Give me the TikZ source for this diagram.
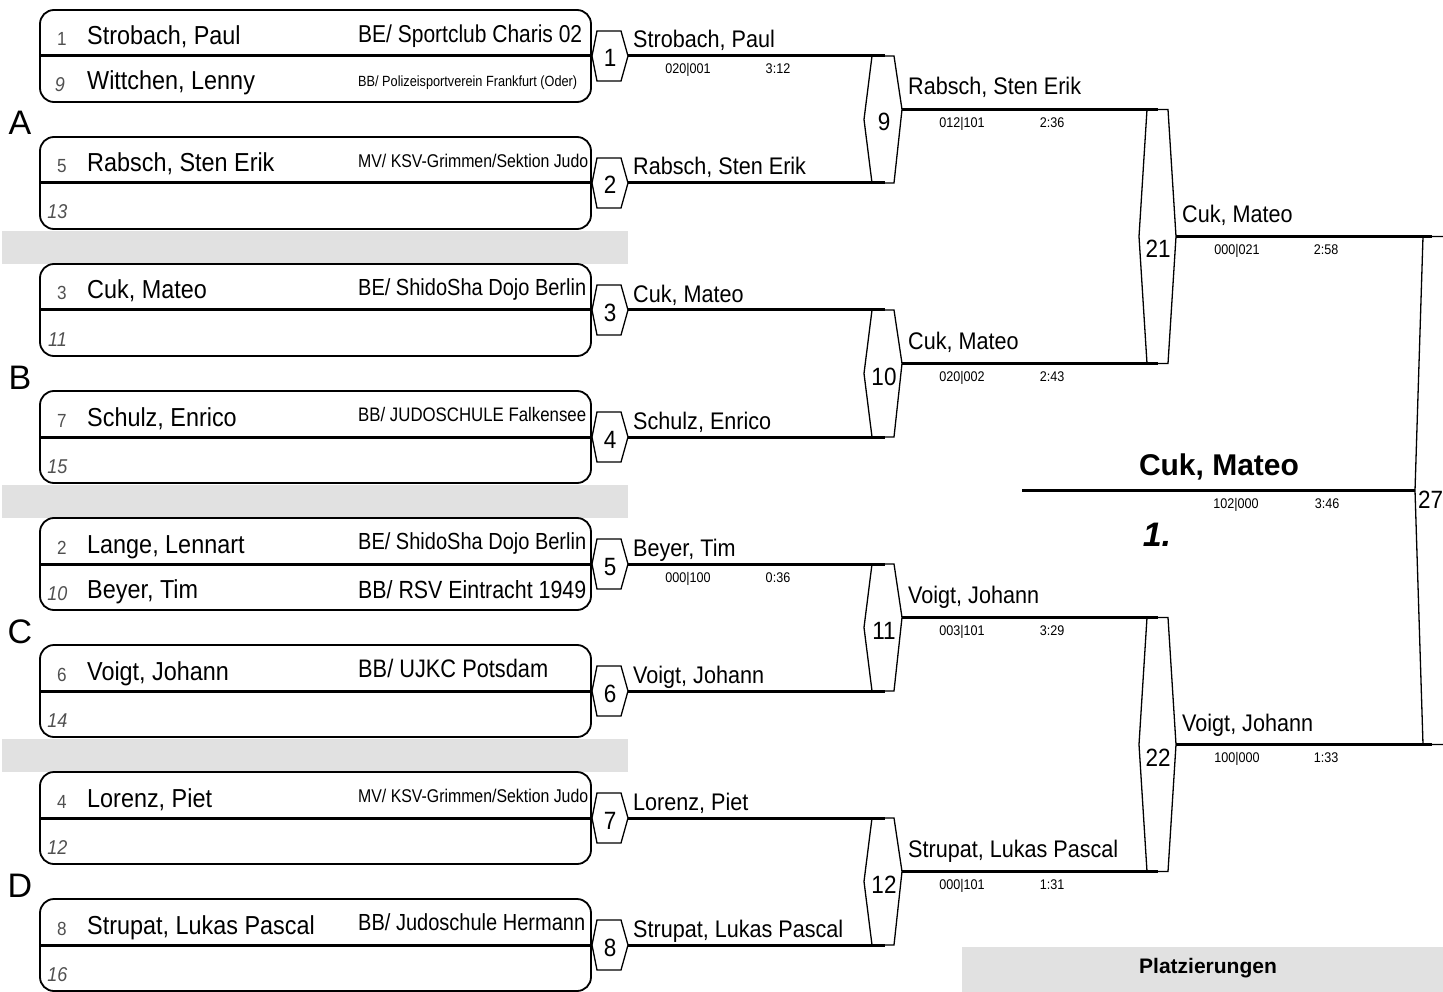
\documentclass[tikz,border=0pt]{standalone}
\usepackage{fontspec}
\usepackage{graphicx}
\setmainfont{Liberation Sans}
\newfontfamily\narf[FakeStretch=0.9]{Liberation Sans}
\newfontfamily\clubf[FakeStretch=0.86]{Liberation Sans}
\definecolor{bandgray}{HTML}{E1E1E1}
\definecolor{seedgray}{HTML}{505050}
\newcommand\clubtext[2]{\resizebox{#1}{!}{\clubf\fontsize{25}{25}\selectfont\smash{#2}\rule{0pt}{17.9pt}}}
\newcommand\pairbox[4]{%
  \pgfmathsetmacro\mymid{56+127*(#1-1)}%
  \node[entrybox] (box#1) at (315.5,\mymid) {};
  \draw[midline] (box#1.west) -- (box#1.east);
  \node[seedtop] (st#1) at (62,\mymid-10) {#2};
  \node[seedbot] (sb#1) at (#4,\mymid+36) {#3};
}
\newcommand\topname[2]{\pgfmathsetmacro\mymid{56+127*(#1-1)}\node[namestyle] (tn#1) at (87,\mymid-11) {#2};}
\newcommand\botname[2]{\pgfmathsetmacro\mymid{56+127*(#1-1)}\node[namestyle] (bn#1) at (87,\mymid+34) {#2};}
\newcommand\topclub[3]{\pgfmathsetmacro\mymid{56+127*(#1-1)}\node[clubstyle] (tc#1) at (358,\mymid-22.5) {\clubtext{#2}{#3}};}
\newcommand\botclub[3]{\pgfmathsetmacro\mymid{56+127*(#1-1)}\node[clubstyle] (bc#1) at (358,\mymid+25.5) {\clubtext{#2}{#3}};}
\newcommand\hexone[1]{%
  \pgfmathsetmacro\myhc{56+127*(#1-1)}%
  \draw[hexline] (592,\myhc) -- (597,\myhc-25) -- (621,\myhc-25) -- (628,\myhc) -- (621,\myhc+25) -- (597,\myhc+25) -- cycle;
  \coordinate (ho#1) at (628,\myhc);
  \coordinate (hi#1) at (885,\myhc);
  \draw[winline] (ho#1) -- (hi#1);
  \node[hexnum] (hn#1) at (610,\myhc+11) {#1};
}
\newcommand\hextwo[2]{%
  \pgfmathsetmacro\hxt{56+254*(#1-1)}%
  \pgfmathsetmacro\hxb{\hxt+127}%
  \pgfmathsetmacro\hxm{\hxt+63.5}%
  \pgfmathsetmacro\hxo{\hxm-10}%
  \draw[hexline] (864,\hxm) -- (872,\hxt) -- (894,\hxt) -- (902,\hxo) -- (894,\hxb) -- (872,\hxb) -- cycle;
  \coordinate (ho#2) at (902,\hxo);
  \coordinate (hi#2) at (1158,\hxo);
  \draw[winline] (ho#2) -- (hi#2);
  \node[hexnum] (hn#2) at (884,\hxm+11.5) {#2};
}
\newcommand\hexthree[2]{%
  \pgfmathsetmacro\hxt{109.5+508*(#1-1)}%
  \pgfmathsetmacro\hxb{\hxt+254}%
  \pgfmathsetmacro\hxm{\hxt+127}%
  \draw[hexline] (1139,\hxm) -- (1147,\hxt) -- (1168,\hxt) -- (1176,\hxm) -- (1168,\hxb) -- (1147,\hxb) -- cycle;
  \coordinate (ho#2) at (1176,\hxm);
  \coordinate (hi#2) at (1432,\hxm);
  \draw[winline] (ho#2) -- (hi#2);
  \node[hexnum] (hn#2) at (1158,\hxm+21.5) {#2};
}
\begin{document}
\begin{tikzpicture}[x=1pt,y=-1pt,
  entrybox/.style={draw,line width=1.8pt,rounded corners=14pt,minimum width=551pt,minimum height=92pt,inner sep=0pt},
  midline/.style={line width=3pt},
  hexline/.style={draw,line width=1.3pt,line join=miter},
  winline/.style={line width=3pt},
  namestyle/.style={anchor=base west,inner sep=0pt,font=\narf\fontsize{26}{26}\selectfont},
  seedtop/.style={anchor=base,inner sep=0pt,text=seedgray,font=\narf\fontsize{19}{19}\selectfont},
  seedbot/.style={anchor=base,inner sep=0pt,text=seedgray,font=\narf\itshape\fontsize{20}{20}\selectfont},
  clubstyle/.style={anchor=west,inner sep=0pt},
  outname/.style={anchor=base west,inner sep=0pt,font=\narf\fontsize{24}{24}\selectfont},
  score/.style={anchor=base,inner sep=0pt,font=\narf\fontsize{14}{14}\selectfont},
  hexnum/.style={anchor=base,inner sep=0pt,font=\narf\fontsize{25}{25}\selectfont},
  grp/.style={anchor=base,inner sep=0pt,font=\fontsize{34}{34}\selectfont}]
\useasboundingbox (0,0) rectangle (1443,992);
\clip (0,0) rectangle (1443,992);

% grey separator bands
\foreach \j in {0,1,2}{
  \fill[bandgray] (2,231+254*\j) rectangle (628,264+254*\j);
}

% entry boxes
\pairbox{1}{1}{9}{60}
\pairbox{2}{5}{13}{57.5}
\pairbox{3}{3}{11}{57.5}
\pairbox{4}{7}{15}{57.5}
\pairbox{5}{2}{10}{57.5}
\pairbox{6}{6}{14}{57.5}
\pairbox{7}{4}{12}{57.5}
\pairbox{8}{8}{16}{57.5}

\topname{1}{Strobach, Paul}
\botname{1}{Wittchen, Lenny}
\topname{2}{Rabsch, Sten Erik}
\topname{3}{Cuk, Mateo}
\topname{4}{Schulz, Enrico}
\topname{5}{Lange, Lennart}
\botname{5}{Beyer, Tim}
\topname{6}{Voigt, Johann}
\topname{7}{Lorenz, Piet}
\topname{8}{Strupat, Lukas Pascal}

\topclub{1}{224pt}{BE/ Sportclub Charis 02}
\botclub{1}{219pt}{BB/ Polizeisportverein Frankfurt (Oder)}
\topclub{2}{230pt}{MV/ KSV-Grimmen/Sektion Judo}
\topclub{3}{228pt}{BE/ ShidoSha Dojo Berlin}
\topclub{4}{228pt}{BB/ JUDOSCHULE Falkensee}
\topclub{5}{228pt}{BE/ ShidoSha Dojo Berlin}
\botclub{5}{228pt}{BB/ RSV Eintracht 1949}
\topclub{6}{190pt}{BB/ UJKC Potsdam}
\topclub{7}{230pt}{MV/ KSV-Grimmen/Sektion Judo}
\topclub{8}{227pt}{BB/ Judoschule Hermann}

% pool letters
\node[grp] (gA) at (20,135) {A};
\node[grp] (gB) at (20,389) {B};
\node[grp] (gC) at (20,643) {C};
\node[grp] (gD) at (20,897) {D};

% round 1
\foreach \k in {1,...,8}{\hexone{\k}}
\node[outname] (o1) at (633,48) {Strobach, Paul};
\node[outname] (o2) at (633,175) {Rabsch, Sten Erik};
\node[outname] (o3) at (633,302) {Cuk, Mateo};
\node[outname] (o4) at (633,429) {Schulz, Enrico};
\node[outname] (o5) at (633,556) {Beyer, Tim};
\node[outname] (o6) at (633,683) {Voigt, Johann};
\node[outname] (o7) at (633,810) {Lorenz, Piet};
\node[outname] (o8) at (633,937) {Strupat, Lukas Pascal};
\node[score] (s1a) at (688,74) {020|001};
\node[score] (s1b) at (778,74) {3:12};
\node[score] (s5a) at (688,582) {000|100};
\node[score] (s5b) at (778,582) {0:36};

% round 2
\hextwo{1}{9}
\hextwo{2}{10}
\hextwo{3}{11}
\hextwo{4}{12}
\node[outname] (o9) at (908,95) {Rabsch, Sten Erik};
\node[outname] (o10) at (908,349) {Cuk, Mateo};
\node[outname] (o11) at (908,603) {Voigt, Johann};
\node[outname] (o12) at (908,857) {Strupat, Lukas Pascal};
\node[score] (s9a) at (962,127.5) {012|101};
\node[score] (s9b) at (1052,127.5) {2:36};
\node[score] (s10a) at (962,381.5) {020|002};
\node[score] (s10b) at (1052,381.5) {2:43};
\node[score] (s11a) at (962,635.5) {003|101};
\node[score] (s11b) at (1052,635.5) {3:29};
\node[score] (s12a) at (962,889.5) {000|101};
\node[score] (s12b) at (1052,889.5) {1:31};

% round 3
\hexthree{1}{21}
\hexthree{2}{22}
\node[outname] (o21) at (1182,223) {Cuk, Mateo};
\node[outname] (o22) at (1182,731) {Voigt, Johann};
\node[score] (s21a) at (1237,254.5) {000|021};
\node[score] (s21b) at (1326,254.5) {2:58};
\node[score] (s22a) at (1237,762.5) {100|000};
\node[score] (s22b) at (1326,762.5) {1:33};

% final
\draw[hexline] (1415,490.5) -- (1423,236.5) -- (1444,236.5) -- (1452,490.5) -- (1444,744.5) -- (1423,744.5) -- cycle;
\coordinate (h27l) at (1415,490.5);
\coordinate (fin) at (1022,490.5);
\draw[winline] (h27l) -- (fin);
\node[anchor=base west,inner sep=0pt,font=\narf\fontsize{25}{25}\selectfont] (hn27) at (1418,508) {27};
\node[anchor=base,inner sep=0pt,font=\bfseries\fontsize{30}{30}\selectfont] (winner) at (1219,475) {Cuk, Mateo};
\node[score] (s27a) at (1236,508.5) {102|000};
\node[score] (s27b) at (1327,508.5) {3:46};
\node[anchor=base,inner sep=0pt,font=\bfseries\itshape\fontsize{34}{34}\selectfont] (place1) at (1157,546) {1.};

% placings header
\node[fill=bandgray,anchor=north west,minimum width=481pt,minimum height=45pt,inner sep=0pt] (plbox) at (962,947) {};
\node[anchor=base,inner sep=0pt,font=\bfseries\fontsize{21}{21}\selectfont] (pltext) at (1208,973) {Platzierungen};
\end{tikzpicture}
\end{document}
